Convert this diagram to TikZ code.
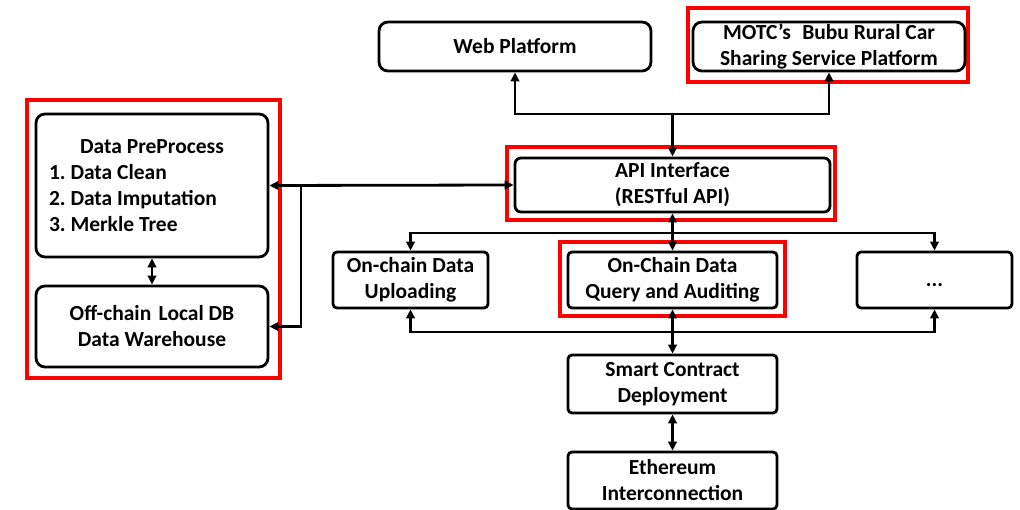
\documentclass[tikz,border=0pt]{standalone}
\usepackage{fontspec}
\setmainfont{Carlito}
\usetikzlibrary{arrows.meta}
\begin{document}
\begin{tikzpicture}[x=1pt,y=-1pt,
  box/.style={draw=black, line width=2.8pt, fill=white, rounded corners=4pt,
    inner sep=0pt, align=center, font=\bfseries\fontsize{21.5}{26}\selectfont\frenchspacing},
  rbox/.style={box, rounded corners=9pt},
  hl/.style={draw=red, line width=3.5pt},
  tip/.tip={Triangle[length=9pt,width=8.5pt]},
  link/.style={line width=2.8pt, -tip},
  dlink/.style={line width=2.8pt, tip-tip},
]
\useasboundingbox (0,0) rectangle (1020,510);

% highlight frames
\draw[hl] (27,100) rectangle (280,378);
\draw[hl] (688,8) rectangle (968,82);
\draw[hl] (507,147) rectangle (835,220);
\draw[hl] (560,242) rectangle (785,316);

% top row
\node[rbox, minimum width=272pt, minimum height=49pt] (web) at (515,46.5) {Web Platform};
\node[rbox, minimum width=272pt, minimum height=49pt] (motc) at (829,46.5)
  {MOTC’s\hspace{0.3em} Bubu Rural Car\\Sharing Service Platform};

% interface
\node[box, rounded corners=6pt, minimum width=315pt, minimum height=54pt] (api) at (672.5,185)
  {API Interface\\(RESTful API)};

% local processing
\node[rbox, text width=206pt, inner xsep=13pt, minimum height=143pt, align=left] (pre) at (152,185.5)
  {\spaceskip=0pt\xspaceskip=0pt\makebox[\linewidth][c]{Data PreProcess}\\1. Data Clean\\2. Data Imputation\\3. Merkle Tree};
\node[rbox, minimum width=232pt, minimum height=81pt] (off) at (152,326.5)
  {Off-chain\hspace{0.12em} Local DB\\Data Warehouse};

% on-chain services
\node[box, minimum width=155pt, minimum height=56pt] (upl) at (410.5,280) {On-chain Data\\Uploading};
\node[box, minimum width=209pt, minimum height=56pt] (qry) at (672.5,280) {On-Chain Data\\Query and Auditing};
\node[box, minimum width=155pt, minimum height=56pt] (dots) at (934.5,280) {\vphantom{A}...};

% chain layer
\node[box, minimum width=209pt, minimum height=58pt] (sc) at (672.5,384) {Smart Contract\\Deployment};
\node[box, minimum width=209pt, minimum height=57pt] (eth) at (672.5,480.5) {Ethereum\\Interconnection};

% junction points
\coordinate (tb) at (672.5,114);
\coordinate (lb) at (301,185);
\coordinate (mb) at (672.5,233);
\coordinate (bb) at (672.5,332);

% platforms <-> API
\draw[link] (tb) -- (api.north);
\draw[link] (tb) -| (web.south);
\draw[link] (tb) -| (motc.south);

% API <-> local side
\draw[dlink] (api.west) -- (pre.east);
\draw[link] (lb) |- (off.east);
\draw[dlink] (pre.south) -- (off.north);

% API <-> services
\draw[dlink] (api.south) -- (qry.north);
\draw[link] (mb) -| (upl.north);
\draw[link] (mb) -| (dots.north);

% services <-> contract
\draw[dlink] (qry.south) -- (sc.north);
\draw[link] (bb) -| (upl.south);
\draw[link] (bb) -| (dots.south);

\draw[dlink] (sc.south) -- (eth.north);
\end{tikzpicture}
\end{document}
